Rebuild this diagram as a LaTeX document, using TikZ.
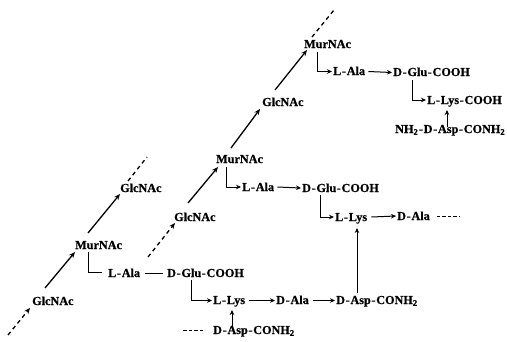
\documentclass[tikz,border=0pt]{standalone}
\usepackage{fontspec}
\setmainfont{Liberation Serif}[BoldFeatures={FakeBold=0.6}]
\usetikzlibrary{arrows.meta}
% hyphen with a little air on each side
\newcommand{\hy}{\kern.7pt-\kern.7pt}
\begin{document}
\begin{tikzpicture}[x=1pt,y=-1pt,
  lbl/.style={font=\bfseries\fontsize{12.2}{14}\selectfont,anchor=base west,inner sep=0pt},
  arr/.style={line width=1pt,-{Stealth[length=5pt,width=4.5pt]}},
  link/.style={line width=1pt},
  diag/.style={line width=1.3pt,-{Stealth[length=6pt,width=5pt]}},
  dsh/.style={line width=1.3pt,dash pattern=on 4pt off 3.5pt},
  dtip/.style={-{Stealth[length=6pt,width=5pt]}},
  dshort/.style={line width=1pt,dash pattern=on 3.5pt off 2pt}]
\useasboundingbox (0,0) rectangle (507,341);

% ---- first glycan strand ----
\node[lbl] (g1)  at (32,305)  {GlcNAc};
\node[lbl] (m1)  at (75,249)  {MurNAc};
\node[lbl] (g2)  at (120,192) {GlcNAc};
\node[lbl] (la1) at (108,277) {L\hy Ala};
\node[lbl] (dg1) at (167,277) {D\hy Glu\hy COOH};
\node[lbl] (ll1) at (213,304) {L\hy Lys};
\node[lbl] (da1) at (276,304) {D\hy Ala};
\node[lbl] (dac1) at (336,304) {D\hy Asp\hy CONH\textsubscript{2}};
\node[lbl] (dac0) at (213,334) {D\hy Asp\hy CONH\textsubscript{2}};

% ---- second glycan strand ----
\node[lbl] (g3)  at (174,221) {GlcNAc};
\node[lbl] (m2)  at (216,163) {MurNAc};
\node[lbl] (g4)  at (262,106) {GlcNAc};
\node[lbl] (m3)  at (304,48)  {MurNAc};
\node[lbl] (la2) at (242,191) {L\hy Ala};
\node[lbl] (dg2) at (302,192) {D\hy Glu\hy COOH};
\node[lbl] (ll2) at (335,221) {L\hy Lys};
\node[lbl] (da2) at (397,220) {D\hy Ala};

% ---- third stem peptide ----
\node[lbl] (la3) at (333,75)  {L\hy Ala};
\node[lbl] (dg3) at (393,76)  {D\hy Glu\hy COOH};
\node[lbl] (ll3) at (427,104) {L\hy Lys\hy COOH};
\node[lbl] (na3) at (395,133) {NH\textsubscript{2}\hy D\hy Asp\hy CONH\textsubscript{2}};

% free ends of the open chains
\coordinate (c1) at (8,335);
\coordinate (c2) at (147,157);
\coordinate (c3) at (148,257);
\coordinate (c4) at (334,10);
\coordinate (c5) at (183,330.5);
\coordinate (c6) at (460,216);

% glycan backbone, strand 1
\draw[dsh,dtip] (c1) -- ([shift={(-2,3)}]g1.base west);
\draw[diag] ([shift={(13,-17)}]g1.base west) -- ([shift={(0,3)}]m1.base west);
\draw[diag] ([shift={(13,-16)}]m1.base west) -- ([shift={(0,2)}]g2.base west);
\draw[dsh] ([shift={(8,-11)}]g2.base west) -- (c2);

% stem peptide, strand 1
\draw[link] ([shift={(13,3)}]m1.base west) |- ([shift={(-6,-5)}]la1.base west);
\draw[link] ([shift={(5,-4)}]la1.base east) -- ([shift={(-4,-4)}]dg1.base west);
\draw[arr] ([shift={(24,3)}]dg1.base west) |- ([shift={(-1,-3.5)}]ll1.base west);
\draw[arr] ([shift={(4,-3.5)}]ll1.base east) -- ([shift={(-1,-3.5)}]da1.base west);
\draw[arr] ([shift={(4,-3.5)}]da1.base east) -- ([shift={(-1,-3.5)}]dac1.base west);
\draw[arr] ([shift={(21,-11)}]dac1.base west) -- ([shift={(22,7)}]ll2.base west);
\draw[arr] ([shift={(19,-8)}]dac0.base west) -- ([shift={(19,6)}]ll1.base west);
\draw[dshort] (c5) -- ([shift={(-8,-3.5)}]dac0.base west);

% glycan backbone, strand 2
\draw[dsh,dtip] (c3) -- ([shift={(1,2)}]g3.base west);
\draw[diag] ([shift={(14,-18)}]g3.base west) -- ([shift={(2,4)}]m2.base west);
\draw[diag] ([shift={(15,-15)}]m2.base west) -- ([shift={(-2,3)}]g4.base west);
\draw[diag] ([shift={(13,-16)}]g4.base west) -- ([shift={(3,2)}]m3.base west);
\draw[dsh] ([shift={(8,-11)}]m3.base west) -- (c4);

% stem peptide, strand 2
\draw[arr] ([shift={(10,4)}]m2.base west) |- ([shift={(-1,-4)}]la2.base west);
\draw[arr] ([shift={(3,-4)}]la2.base east) -- ([shift={(-1,-4)}]dg2.base west);
\draw[arr] ([shift={(18,3)}]dg2.base west) |- ([shift={(-1,-4)}]ll2.base west);
\draw[arr] ([shift={(4,-4)}]ll2.base east) -- ([shift={(-1,-4)}]da2.base west);
\draw[dshort] ([shift={(7,-4)}]da2.base east) -- (c6);

% stem peptide, strand 3
\draw[arr] ([shift={(13,4)}]m3.base west) |- ([shift={(-1,-3.5)}]la3.base west);
\draw[arr] ([shift={(3,-3.5)}]la3.base east) -- ([shift={(-1,-3.5)}]dg3.base west);
\draw[arr] ([shift={(19,4)}]dg3.base west) |- ([shift={(-1,-4)}]ll3.base west);
\draw[arr] ([shift={(52,-6)}]na3.base west) -- ([shift={(20,6)}]ll3.base west);
\end{tikzpicture}
\end{document}
